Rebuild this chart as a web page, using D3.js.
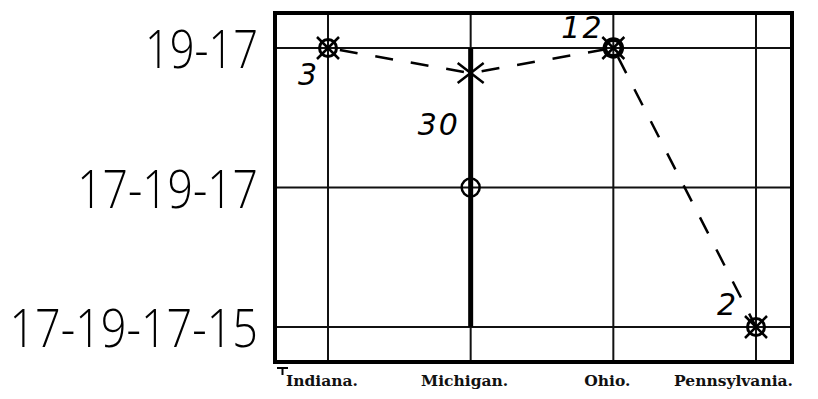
<!DOCTYPE html>
<html>
<head>
<meta charset="utf-8">
<script src="https://cdn.jsdelivr.net/npm/d3@7"></script>
<style>
  body { margin: 0; background: #fff; }
  svg { display: block; }
</style>
</head>
<body>
<svg id="chart" width="818" height="399"></svg>
<script>
// data
var states = ['Indiana.', 'Michigan.', 'Ohio.', 'Pennsylvania.'];
var levels = ['19-17', '17-19-17', '17-19-17-15'];
var meanLevel = [0, 0.18, 0, 2];       // where the dashed line passes
var counts = [3, 30, 12, 2];
var michiganRange = [0, 2];           // heavy bar for Michigan
var michiganMode = 1;                 // circle on the bar

var svg = d3.select('#chart');

var frame = { left: 275, right: 792, top: 13, bottom: 362 };

var xScale = d3.scalePoint()
  .domain(states)
  .range([328, 756]);
var yScale = d3.scaleLinear()
  .domain([0, levels.length - 1])
  .range([48, 327]);

// grid lines
svg.selectAll('line.h')
  .data(levels)
  .enter()
  .append('line')
  .attr('x1', frame.left).attr('x2', frame.right)
  .attr('y1', function (d, i) { return yScale(i); })
  .attr('y2', function (d, i) { return yScale(i); })
  .attr('stroke', '#111').attr('stroke-width', 2);

svg.selectAll('line.v')
  .data(states)
  .enter()
  .append('line')
  .attr('x1', function (d) { return xScale(d); })
  .attr('x2', function (d) { return xScale(d); })
  .attr('y1', frame.top).attr('y2', frame.bottom)
  .attr('stroke', '#111').attr('stroke-width', 2);

// frame
svg.append('rect')
  .attr('x', frame.left).attr('y', frame.top)
  .attr('width', frame.right - frame.left)
  .attr('height', frame.bottom - frame.top)
  .attr('fill', 'none')
  .attr('stroke', '#000').attr('stroke-width', 4);

// small mark under the corner
svg.append('path')
  .attr('d', 'M' + (frame.left + 2) + ',' + (frame.bottom + 6) + 'h11M' + (frame.left + 7.5) + ',' + (frame.bottom + 6) + 'v7')
  .attr('stroke', '#000').attr('stroke-width', 2).attr('fill', 'none');

// level labels (hand lettered)
svg.selectAll('text.level')
  .data(levels)
  .enter()
  .append('text')
  .attr('x', 258)
  .attr('y', function (d, i) { return yScale(i) + 20; })
  .attr('text-anchor', 'end')
  .attr('textLength', function (d) { return d.length * 22.6; })
  .attr('lengthAdjust', 'spacingAndGlyphs')
  .attr('font-family', 'Open Sans, DejaVu Sans')
  .attr('font-weight', 350)
  .attr('font-size', 54)
  .attr('fill', '#000')
  .text(function (d) { return d; });

// state labels
svg.selectAll('text.state')
  .data(states)
  .enter()
  .append('text')
  .attr('y', 386)
  .attr('text-anchor', 'middle')
  .attr('font-family', 'DejaVu Serif')
  .attr('font-weight', 'bold')
  .attr('font-size', 15.5)
  .attr('fill', '#111')
  .text(function (d) { return d; })
  .attr('x', function (d) {
    var half = this.getComputedTextLength() / 2;
    return Math.min(xScale(d) - 6, frame.right + 1 - half);
  });

// Michigan heavy bar
svg.append('line')
  .attr('x1', xScale(states[1])).attr('x2', xScale(states[1]))
  .attr('y1', yScale(michiganRange[0])).attr('y2', yScale(michiganRange[1]))
  .attr('stroke', '#000').attr('stroke-width', 5);

svg.append('circle')
  .attr('cx', xScale(states[1]))
  .attr('cy', yScale(michiganMode))
  .attr('r', 9)
  .attr('fill', 'none')
  .attr('stroke', '#000').attr('stroke-width', 2.5);

// dashed line
var line = d3.line()
  .x(function (d, i) { return xScale(states[i]); })
  .y(function (d) { return yScale(d); });

svg.append('path')
  .datum(meanLevel)
  .attr('d', line)
  .attr('fill', 'none')
  .attr('stroke', '#000')
  .attr('stroke-width', 2.5)
  .attr('stroke-dasharray', '18,18')
  .attr('stroke-dashoffset', -12);

// markers
var markers = svg.selectAll('g.marker')
  .data(meanLevel)
  .enter()
  .append('g')
  .attr('transform', function (d, i) {
    return 'translate(' + xScale(states[i]) + ',' + yScale(d) + ')';
  });

markers.filter(function (d, i) { return i !== 1; })
  .append('circle')
  .attr('r', 8.5)
  .attr('fill', 'none')
  .attr('stroke', '#000')
  .attr('stroke-width', function (d, i) { return i === 1 ? 4.5 : 3; });

markers.append('path')
  .attr('d', function (d, i) {
    return i === 1 ? 'M-13,-10L13,10M-13,10L13,-10' : 'M-11,-11L11,11M-11,11L11,-11';
  })
  .attr('stroke', '#000')
  .attr('stroke-width', 2.5);

// counts
var countOffsets = [[-30, 37], [-53, 62], [-52, -10], [-39, -12]];

svg.selectAll('text.count')
  .data(counts)
  .enter()
  .append('text')
  .attr('x', function (d, i) { return xScale(states[i]) + countOffsets[i][0]; })
  .attr('y', function (d, i) { return yScale(meanLevel[i]) + countOffsets[i][1]; })
  .attr('font-family', 'DejaVu Sans')
  .attr('font-style', 'italic')
  .attr('font-size', 30)
  .attr('letter-spacing', function (d) { return d >= 10 ? 2 : 0; })
  .attr('fill', '#000')
  .text(function (d) { return d; });
</script>
</body>
</html>
